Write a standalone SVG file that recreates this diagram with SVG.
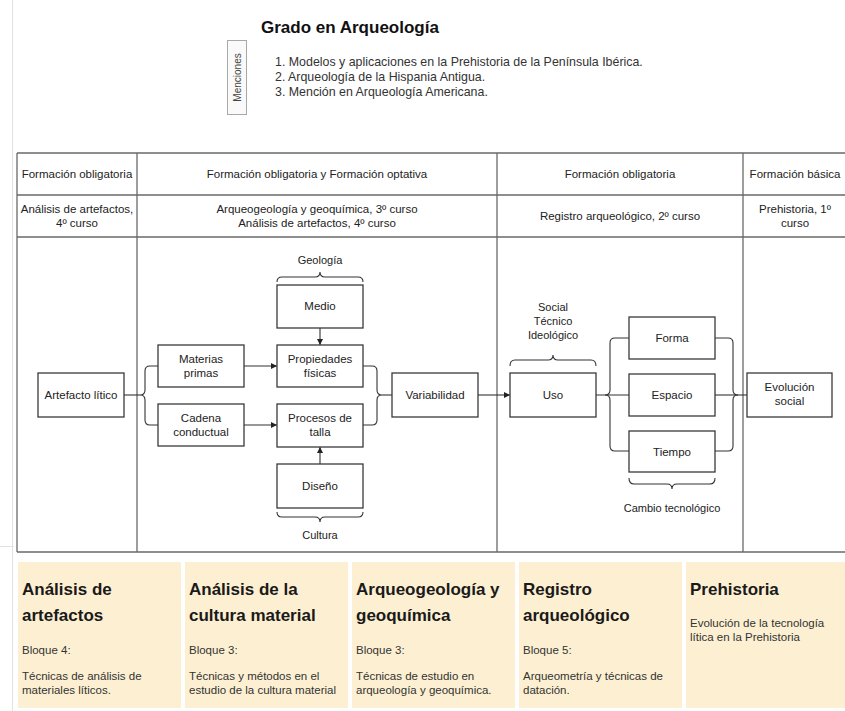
<svg xmlns="http://www.w3.org/2000/svg" width="845" height="711" viewBox="0 0 845 711">
<defs>
<style>
text{font-family:"Liberation Sans",Arial,sans-serif;fill:#222}
.t{font-size:11.5px;text-anchor:middle}
.l{font-size:11px;text-anchor:middle}
.box{fill:#fff;stroke:#3a3a3a;stroke-width:1.3}
.grid{stroke:#6a6a6a;stroke-width:1.3;fill:none}
.con{stroke:#333;stroke-width:1.1;fill:none}
.card{fill:#fdf0d2}
.ct{font-size:17px;font-weight:bold;fill:#1a1a1a}
.cs{font-size:11.5px;fill:#333}
.li{font-size:12.4px;fill:#333}
</style>
<marker id="ah" viewBox="0 0 6 6" refX="6" refY="3" markerWidth="6" markerHeight="6" markerUnits="userSpaceOnUse" orient="auto">
<path d="M0,0 L6,3 L0,6 z" fill="#222"/>
</marker>
</defs>
<rect width="845" height="711" fill="#fff"/>
<line x1="12.5" y1="0" x2="12.5" y2="711" stroke="#e2e2e2" stroke-width="1"/>
<line x1="0" y1="546.5" x2="14" y2="546.5" stroke="#e2e2e2" stroke-width="1"/>

<g id="header">
<text x="261" y="33" style="font-size:17px;font-weight:bold;fill:#111">Grado en Arqueología</text>
<rect x="227.5" y="40.5" width="19" height="74" fill="#fafafa" stroke="#a8a8a8" stroke-width="1"/>
<text transform="translate(240.5,77.5) rotate(-90)" style="font-size:10px;text-anchor:middle;fill:#444">Menciones</text>
<text x="275" y="66" class="li">1. Modelos y aplicaciones en la Prehistoria de la Península Ibérica.</text>
<text x="275" y="81" class="li">2. Arqueología de la Hispania Antigua.</text>
<text x="275" y="96" class="li">3. Mención en Arqueología Americana.</text>
</g>

<g id="table">
<path class="grid" d="M17,153 H845 M17,195 H845 M17,237 H845 M17,552 H845 M17,153 V552 M137,153 V552 M497,153 V552 M743,153 V552"/>
<text class="t" x="77" y="178">Formación obligatoria</text>
<text class="t" x="317" y="178">Formación obligatoria y Formación optativa</text>
<text class="t" x="620" y="178">Formación obligatoria</text>
<text class="t" x="795" y="178">Formación básica</text>
<text class="t" x="77" y="213">Análisis de artefactos,</text>
<text class="t" x="77" y="227">4º curso</text>
<text class="t" x="317" y="213">Arqueogeología y geoquímica, 3º curso</text>
<text class="t" x="317" y="227">Análisis de artefactos, 4º curso</text>
<text class="t" x="620" y="220">Registro arqueológico, 2º curso</text>
<text class="t" x="795" y="213">Prehistoria, 1º</text>
<text class="t" x="795" y="227">curso</text>
</g>

<g id="connectors">
<path class="con" d="M124,395 H140"/>
<path class="con" d="M158,366 H150 Q145,366 145,371 V390 Q145,395 140,395 Q145,395 145,400 V420 Q145,425 150,425 H158"/>
<path class="con" marker-end="url(#ah)" d="M244,366 H277"/>
<path class="con" marker-end="url(#ah)" d="M244,425 H277"/>
<path class="con" marker-end="url(#ah)" d="M320,328 V345"/>
<path class="con" marker-end="url(#ah)" d="M320,464 V447"/>
<path class="con" d="M363,366 H372 Q377,366 377,371 V390 Q377,395 382,395 Q377,395 377,400 V420 Q377,425 372,425 H363"/>
<path class="con" d="M382,395 H392"/>
<path class="con" d="M277,282 Q277,277 282,277 H315 Q320,277 320,272 Q320,277 325,277 H358 Q363,277 363,282"/>
<path class="con" d="M277,512 Q277,517 282,517 H315 Q320,517 320,522 Q320,517 325,517 H358 Q363,517 363,512"/>
<path class="con" marker-end="url(#ah)" d="M478,395 H510"/>
<path class="con" d="M510,366 Q510,360 515,360 H548 Q553,360 553,355 Q553,360 558,360 H591 Q596,360 596,366"/>
<path class="con" d="M596,395 H629"/>
<path class="con" d="M629,338 H615 Q610,338 610,343 V390 Q610,395 605,395 Q610,395 610,400 V446 Q610,451 615,451 H629"/>
<path class="con" d="M715,338 H728 Q733,338 733,343 V390 Q733,395 738,395 Q733,395 733,400 V446 Q733,451 728,451 H715"/>
<path class="con" d="M715,395 H747"/>
<path class="con" d="M629,478 Q629,484 634,484 H667 Q672,484 672,489 Q672,484 677,484 H710 Q715,484 715,478"/>
</g>

<g id="artefacto"><rect class="box" x="38" y="373" width="86" height="44"/><text class="t" x="81" y="399">Artefacto lítico</text></g>
<g id="materias"><rect class="box" x="158" y="345" width="86" height="42"/><text class="t" x="201" y="363">Materias</text><text class="t" x="201" y="377">primas</text></g>
<g id="cadena"><rect class="box" x="158" y="404" width="86" height="42"/><text class="t" x="201" y="422">Cadena</text><text class="t" x="201" y="436">conductual</text></g>
<g id="medio"><rect class="box" x="277" y="285" width="86" height="43"/><text class="t" x="320" y="310">Medio</text></g>
<g id="propiedades"><rect class="box" x="277" y="345" width="86" height="42"/><text class="t" x="320" y="363">Propiedades</text><text class="t" x="320" y="377">físicas</text></g>
<g id="procesos"><rect class="box" x="277" y="404" width="86" height="43"/><text class="t" x="320" y="422">Procesos de</text><text class="t" x="320" y="436">talla</text></g>
<g id="diseno"><rect class="box" x="277" y="464" width="86" height="44"/><text class="t" x="320" y="490">Diseño</text></g>
<g id="variabilidad"><rect class="box" x="392" y="373" width="86" height="44"/><text class="t" x="435" y="399">Variabilidad</text></g>
<g id="uso"><rect class="box" x="510" y="373" width="86" height="44"/><text class="t" x="553" y="399">Uso</text></g>
<g id="forma"><rect class="box" x="629" y="317" width="86" height="42"/><text class="t" x="672" y="342">Forma</text></g>
<g id="espacio"><rect class="box" x="629" y="374" width="86" height="42"/><text class="t" x="672" y="399">Espacio</text></g>
<g id="tiempo"><rect class="box" x="629" y="431" width="86" height="41"/><text class="t" x="672" y="456">Tiempo</text></g>
<g id="evolucion"><rect class="box" x="747" y="373" width="85" height="44"/><text class="t" x="789.5" y="391">Evolución</text><text class="t" x="789.5" y="405">social</text></g>

<g id="labels">
<text class="l" x="320" y="264">Geología</text>
<text class="l" x="320" y="539">Cultura</text>
<text class="l" x="553" y="311">Social</text>
<text class="l" x="553" y="325">Técnico</text>
<text class="l" x="553" y="339">Ideológico</text>
<text class="l" x="672" y="512">Cambio tecnológico</text>
</g>

<g id="card1"><rect class="card" x="18" y="562" width="163" height="146"/>
<text class="ct" x="22" y="595">Análisis de</text><text class="ct" x="22" y="621">artefactos</text>
<text class="cs" x="22" y="654">Bloque 4:</text>
<text class="cs" x="22" y="680">Técnicas de análisis de</text><text class="cs" x="22" y="694">materiales líticos.</text></g>
<g id="card2"><rect class="card" x="185" y="562" width="163" height="146"/>
<text class="ct" x="189" y="595">Análisis de la</text><text class="ct" x="189" y="621">cultura material</text>
<text class="cs" x="189" y="654">Bloque 3:</text>
<text class="cs" x="189" y="680">Técnicas y métodos en el</text><text class="cs" x="189" y="694">estudio de la cultura material</text></g>
<g id="card3"><rect class="card" x="352" y="562" width="163" height="146"/>
<text class="ct" x="356" y="595">Arqueogeología y</text><text class="ct" x="356" y="621">geoquímica</text>
<text class="cs" x="356" y="654">Bloque 3:</text>
<text class="cs" x="356" y="680">Técnicas de estudio en</text><text class="cs" x="356" y="694">arqueología y geoquímica.</text></g>
<g id="card4"><rect class="card" x="519" y="562" width="163" height="146"/>
<text class="ct" x="523" y="595">Registro</text><text class="ct" x="523" y="621">arqueológico</text>
<text class="cs" x="523" y="654">Bloque 5:</text>
<text class="cs" x="523" y="680">Arqueometría y técnicas de</text><text class="cs" x="523" y="694">datación.</text></g>
<g id="card5"><rect class="card" x="686" y="562" width="159" height="146"/>
<text class="ct" x="690" y="595">Prehistoria</text>
<text class="cs" x="690" y="627">Evolución de la tecnología</text><text class="cs" x="690" y="641">lítica en la Prehistoria</text></g>
</svg>
